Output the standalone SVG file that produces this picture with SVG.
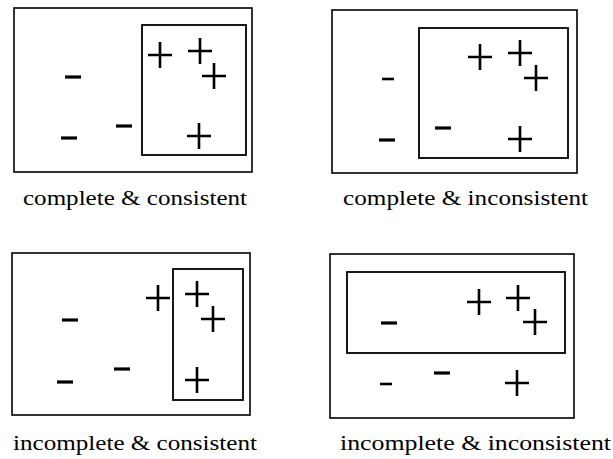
<svg xmlns="http://www.w3.org/2000/svg" xmlns:xlink="http://www.w3.org/1999/xlink" width="613" height="459" viewBox="0 0 613 459">
<style>
.box{fill:none;stroke:#000;stroke-width:1.6}
.inner{fill:none;stroke:#000;stroke-width:1.8}
.sym{stroke:#000;fill:none}
.lbl{font-family:"Liberation Serif","Times New Roman",serif;font-size:20px;fill:#000}
</style>
<defs>
<path id="plus" class="sym" d="M-12,0H12M0,-13V13" stroke-width="2.6"/>
<path id="minus" class="sym" d="M-8,0H8" stroke-width="3.2"/>
<path id="minusS" class="sym" d="M-6,0H6" stroke-width="2.6"/>
</defs>
<rect width="613" height="459" fill="#fff"/>

<g id="panel-complete-consistent">
<rect class="box" x="14" y="8" width="238" height="164"/>
<rect class="inner" x="142" y="25" width="104" height="130"/>
<use xlink:href="#minus" x="73" y="77"/>
<use xlink:href="#minus" x="69" y="138"/>
<use xlink:href="#minus" x="124" y="126"/>
<use xlink:href="#plus" x="160" y="55"/>
<use xlink:href="#plus" x="200" y="51"/>
<use xlink:href="#plus" x="214" y="76"/>
<use xlink:href="#plus" x="199" y="136"/>
<text class="lbl" x="23" y="205" textLength="224" lengthAdjust="spacingAndGlyphs">complete &amp; consistent</text>
</g>

<g id="panel-complete-inconsistent">
<rect class="box" x="332" y="10" width="245" height="163"/>
<rect class="inner" x="419" y="28" width="149" height="130"/>
<use xlink:href="#minusS" x="388" y="79"/>
<use xlink:href="#minus" x="387" y="140"/>
<use xlink:href="#minus" x="443" y="128"/>
<use xlink:href="#plus" x="480" y="57"/>
<use xlink:href="#plus" x="520" y="53"/>
<use xlink:href="#plus" x="536" y="78"/>
<use xlink:href="#plus" x="520" y="139"/>
<text class="lbl" x="343" y="205" textLength="245" lengthAdjust="spacingAndGlyphs">complete &amp; inconsistent</text>
</g>

<g id="panel-incomplete-consistent">
<rect class="box" x="12" y="253" width="238" height="162"/>
<rect class="inner" x="173" y="269" width="70" height="131"/>
<use xlink:href="#minus" x="70" y="320"/>
<use xlink:href="#minus" x="65" y="382"/>
<use xlink:href="#minus" x="122" y="369"/>
<use xlink:href="#plus" x="158" y="298"/>
<use xlink:href="#plus" x="197" y="294"/>
<use xlink:href="#plus" x="213" y="319"/>
<use xlink:href="#plus" x="197" y="380"/>
<text class="lbl" x="13" y="450" textLength="244" lengthAdjust="spacingAndGlyphs">incomplete &amp; consistent</text>
</g>

<g id="panel-incomplete-inconsistent">
<rect class="box" x="330" y="254" width="244" height="164"/>
<rect class="inner" x="347" y="272" width="218" height="81"/>
<use xlink:href="#minus" x="389" y="323"/>
<use xlink:href="#minusS" x="386" y="384"/>
<use xlink:href="#minus" x="442" y="373"/>
<use xlink:href="#plus" x="479" y="302"/>
<use xlink:href="#plus" x="518" y="298"/>
<use xlink:href="#plus" x="535" y="322"/>
<use xlink:href="#plus" x="517" y="383"/>
<text class="lbl" x="340" y="450" textLength="271" lengthAdjust="spacingAndGlyphs">incomplete &amp; inconsistent</text>
</g>
</svg>
